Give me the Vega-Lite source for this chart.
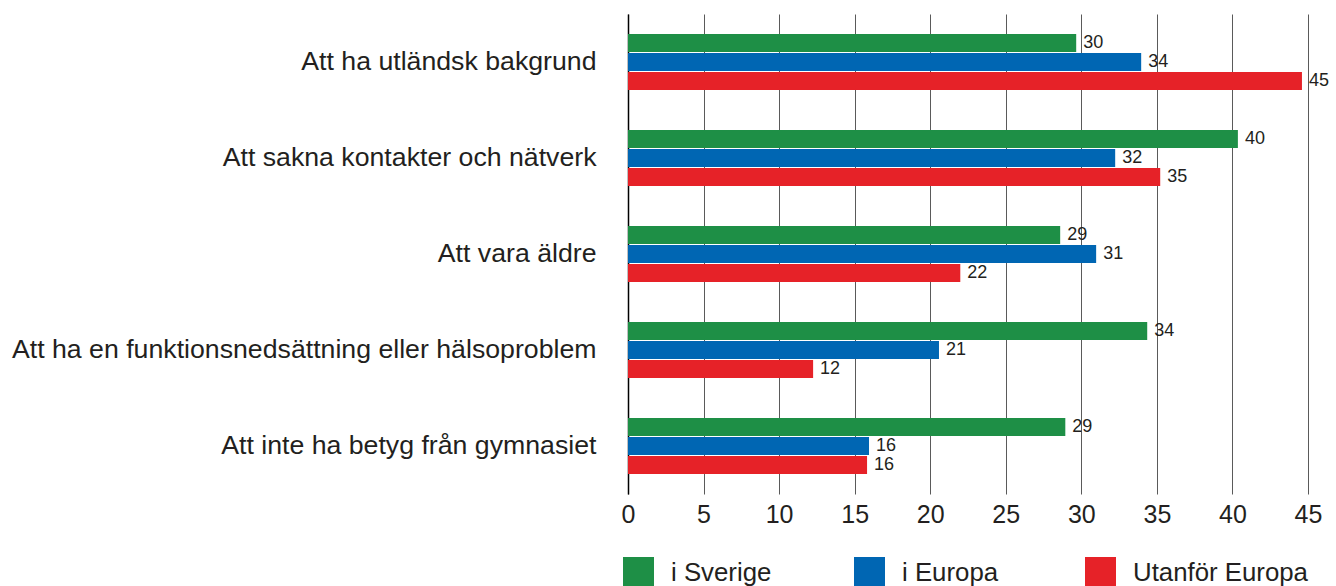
{
  "$schema": "https://vega.github.io/schema/vega-lite/v6.json",
  "width": 680,
  "height": 480,
  "autosize": {"type": "none"},
  "padding": {"left": 628, "top": 14, "right": 28, "bottom": 92},
  "background": "white",
  "config": {
    "font": "Liberation Sans",
    "view": {"stroke": null}
  },
  "data": {
    "values": [
      {"kategori": "Att ha utländsk bakgrund", "grupp": "i Sverige", "varde": 29.66, "etikett": "30"},
      {"kategori": "Att ha utländsk bakgrund", "grupp": "i Europa", "varde": 33.96, "etikett": "34"},
      {"kategori": "Att ha utländsk bakgrund", "grupp": "Utanför Europa", "varde": 44.6, "etikett": "45"},
      {"kategori": "Att sakna kontakter och nätverk", "grupp": "i Sverige", "varde": 40.36, "etikett": "40"},
      {"kategori": "Att sakna kontakter och nätverk", "grupp": "i Europa", "varde": 32.24, "etikett": "32"},
      {"kategori": "Att sakna kontakter och nätverk", "grupp": "Utanför Europa", "varde": 35.22, "etikett": "35"},
      {"kategori": "Att vara äldre", "grupp": "i Sverige", "varde": 28.6, "etikett": "29"},
      {"kategori": "Att vara äldre", "grupp": "i Europa", "varde": 30.98, "etikett": "31"},
      {"kategori": "Att vara äldre", "grupp": "Utanför Europa", "varde": 21.99, "etikett": "22"},
      {"kategori": "Att ha en funktionsnedsättning eller hälsoproblem", "grupp": "i Sverige", "varde": 34.36, "etikett": "34"},
      {"kategori": "Att ha en funktionsnedsättning eller hälsoproblem", "grupp": "i Europa", "varde": 20.58, "etikett": "21"},
      {"kategori": "Att ha en funktionsnedsättning eller hälsoproblem", "grupp": "Utanför Europa", "varde": 12.25, "etikett": "12"},
      {"kategori": "Att inte ha betyg från gymnasiet", "grupp": "i Sverige", "varde": 28.94, "etikett": "29"},
      {"kategori": "Att inte ha betyg från gymnasiet", "grupp": "i Europa", "varde": 15.95, "etikett": "16"},
      {"kategori": "Att inte ha betyg från gymnasiet", "grupp": "Utanför Europa", "varde": 15.82, "etikett": "16"}
    ]
  },
  "encoding": {
    "y": {
      "field": "kategori",
      "type": "nominal",
      "sort": null,
      "scale": {"paddingInner": 0.4167, "paddingOuter": 0.2083},
      "axis": {
        "title": null,
        "labelFontSize": 26.7,
        "labelColor": "#231f20",
        "labelPadding": 32,
        "labelLimit": 700,
        "ticks": false,
        "domain": true,
        "domainColor": "#000000",
        "domainWidth": 1.5
      }
    },
    "yOffset": {
      "field": "grupp",
      "type": "nominal",
      "sort": ["i Sverige", "i Europa", "Utanför Europa"],
      "scale": {"paddingInner": 0.0526, "paddingOuter": 0}
    },
    "x": {
      "field": "varde",
      "type": "quantitative",
      "scale": {"domain": [0, 45], "nice": false},
      "axis": {
        "title": null,
        "values": [0, 5, 10, 15, 20, 25, 30, 35, 40, 45],
        "grid": true,
        "gridColor": "#5a5a5a",
        "gridWidth": 1,
        "domain": false,
        "ticks": false,
        "labelFlush": false,
        "labelFontSize": 25,
        "labelColor": "#231f20",
        "labelPadding": 8
      }
    }
  },
  "layer": [
    {
      "mark": {"type": "bar"},
      "encoding": {
        "color": {
          "field": "grupp",
          "type": "nominal",
          "sort": ["i Sverige", "i Europa", "Utanför Europa"],
          "scale": {
            "domain": ["i Sverige", "i Europa", "Utanför Europa"],
            "range": ["#1e8f46", "#0066b3", "#e62228"]
          },
          "legend": {
            "title": null,
            "orient": "none",
            "legendX": -5,
            "legendY": 543,
            "direction": "horizontal",
            "columns": 3,
            "gridAlign": "all",
            "columnPadding": 8,
            "symbolType": "square",
            "symbolSize": 961,
            "symbolStrokeWidth": 0,
            "symbolOpacity": 1,
            "labelFontSize": 25.8,
            "labelColor": "#231f20",
            "labelOffset": 17,
            "labelLimit": 400
          }
        }
      }
    },
    {
      "mark": {"type": "text", "align": "left", "baseline": "middle", "dx": 7, "fontSize": 18, "color": "#231f20"},
      "encoding": {
        "text": {"field": "etikett", "type": "nominal"}
      }
    }
  ]
}
